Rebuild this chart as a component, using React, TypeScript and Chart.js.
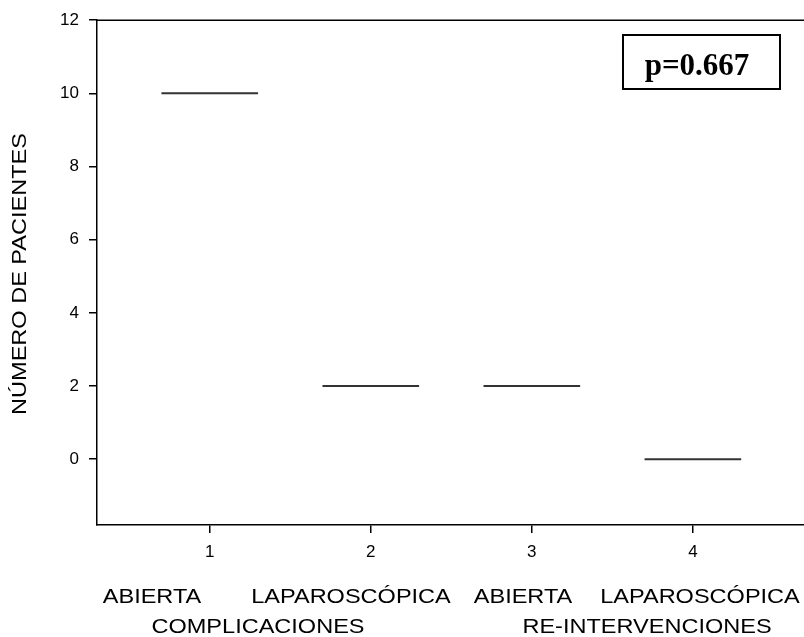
import React, { useEffect, useRef } from "react";
import { Chart, registerables } from "chart.js";

Chart.register(...registerables);

// ---- data ----
const categories = [1, 2, 3, 4];
const patients = [10, 2, 2, 0];
const xTicks = [1, 2, 3, 4];
const yTicks = [0, 2, 4, 6, 8, 10, 12];
const methodLabels = ["ABIERTA", "LAPAROSCÓPICA", "ABIERTA", "LAPAROSCÓPICA"];
const groupLabels = ["COMPLICACIONES", "RE-INTERVENCIONES"];
const yTitle = "NÚMERO DE PACIENTES";
const pValueLabel = "p=0.667";

// ---- style ----
const HALF = 0.3;
const SANS = "'Liberation Sans', Arial, sans-serif";
const SERIF = "'Liberation Serif', 'Times New Roman', serif";

const decorPlugin = {
  id: "decor",
  afterDraw(chart: any) {
    const { ctx, chartArea } = chart;
    ctx.save();
    // top frame line
    ctx.strokeStyle = "#000";
    ctx.lineWidth = 1.5;
    ctx.beginPath();
    ctx.moveTo(chartArea.left, chartArea.top);
    ctx.lineTo(chartArea.right, chartArea.top);
    ctx.stroke();

    const sx = 1.12;
    ctx.fillStyle = "#000";
    ctx.font = `21px ${SANS}`;
    ctx.textAlign = "center";
    ctx.textBaseline = "alphabetic";
    const line1X = [152, 351, 523, 700];
    methodLabels.forEach((t, i) => {
      ctx.save();
      ctx.translate(line1X[i], 603);
      ctx.scale(sx, 1);
      ctx.fillText(t, 0, 0);
      ctx.restore();
    });
    const line2X = [258, 647];
    groupLabels.forEach((t, i) => {
      ctx.save();
      ctx.translate(line2X[i], 633);
      ctx.scale(sx, 1);
      ctx.fillText(t, 0, 0);
      ctx.restore();
    });

    // y title
    ctx.save();
    ctx.translate(26, 274);
    ctx.rotate(-Math.PI / 2);
    ctx.scale(sx, 1);
    ctx.fillText(yTitle, 0, 0);
    ctx.restore();

    // p-value box
    ctx.lineWidth = 2;
    ctx.strokeRect(623, 35, 157, 54);
    ctx.font = `bold 31px ${SERIF}`;
    ctx.textAlign = "center";
    ctx.fillText(pValueLabel, 697, 75);
    ctx.restore();
  },
};

export default function App() {
  const ref = useRef<HTMLCanvasElement>(null);
  useEffect(() => {
    if (!ref.current) return;
    const chart = new Chart(ref.current, {
      type: "scatter",
      data: {
        datasets: categories.map((c, i) => ({
          data: [
            { x: c - HALF, y: patients[i] },
            { x: c + HALF, y: patients[i] },
          ],
          showLine: true,
          borderColor: "#333",
          borderWidth: 2,
          pointRadius: 0,
        })),
      },
      options: {
        responsive: false,
        animation: false,
        layout: { padding: { left: 0, right: 0, top: 16, bottom: 0 } },
        plugins: { legend: { display: false }, tooltip: { enabled: false } },
        scales: {
          x: {
            type: "linear",
            min: 0.3,
            max: 4.69,
            afterBuildTicks: (s: any) => {
              s.ticks = xTicks.map((v) => ({ value: v }));
            },
            afterFit: (s: any) => {
              s.height = 112;
            },
            grid: {
              drawOnChartArea: false,
              drawTicks: true,
              tickLength: 8,
              color: "#000",
              lineWidth: 1.5,
            },
            border: { display: true, color: "#000", width: 1.5 },
            ticks: {
              color: "#000",
              padding: 9,
              font: { family: SANS, size: 17 },
              callback: (v: any) => String(v),
            },
          },
          y: {
            type: "linear",
            min: -1.8,
            max: 12,
            afterBuildTicks: (s: any) => {
              s.ticks = yTicks.map((v) => ({ value: v }));
            },
            afterFit: (s: any) => {
              s.width = 97;
            },
            grid: {
              drawOnChartArea: false,
              drawTicks: true,
              tickLength: 8,
              color: "#000",
              lineWidth: 1.5,
            },
            border: { display: true, color: "#000", width: 1.5 },
            ticks: {
              color: "#000",
              padding: 10,
              font: { family: SANS, size: 17 },
              callback: (v: any) => String(v),
            },
          },
        },
      },
      plugins: [decorPlugin],
    });
    return () => chart.destroy();
  }, []);
  return (
    <div style={{ position: "absolute", left: 0, top: 0, width: 804, height: 637 }}>
      <canvas ref={ref} width={804} height={637} style={{ display: "block" }} />
    </div>
  );
}
